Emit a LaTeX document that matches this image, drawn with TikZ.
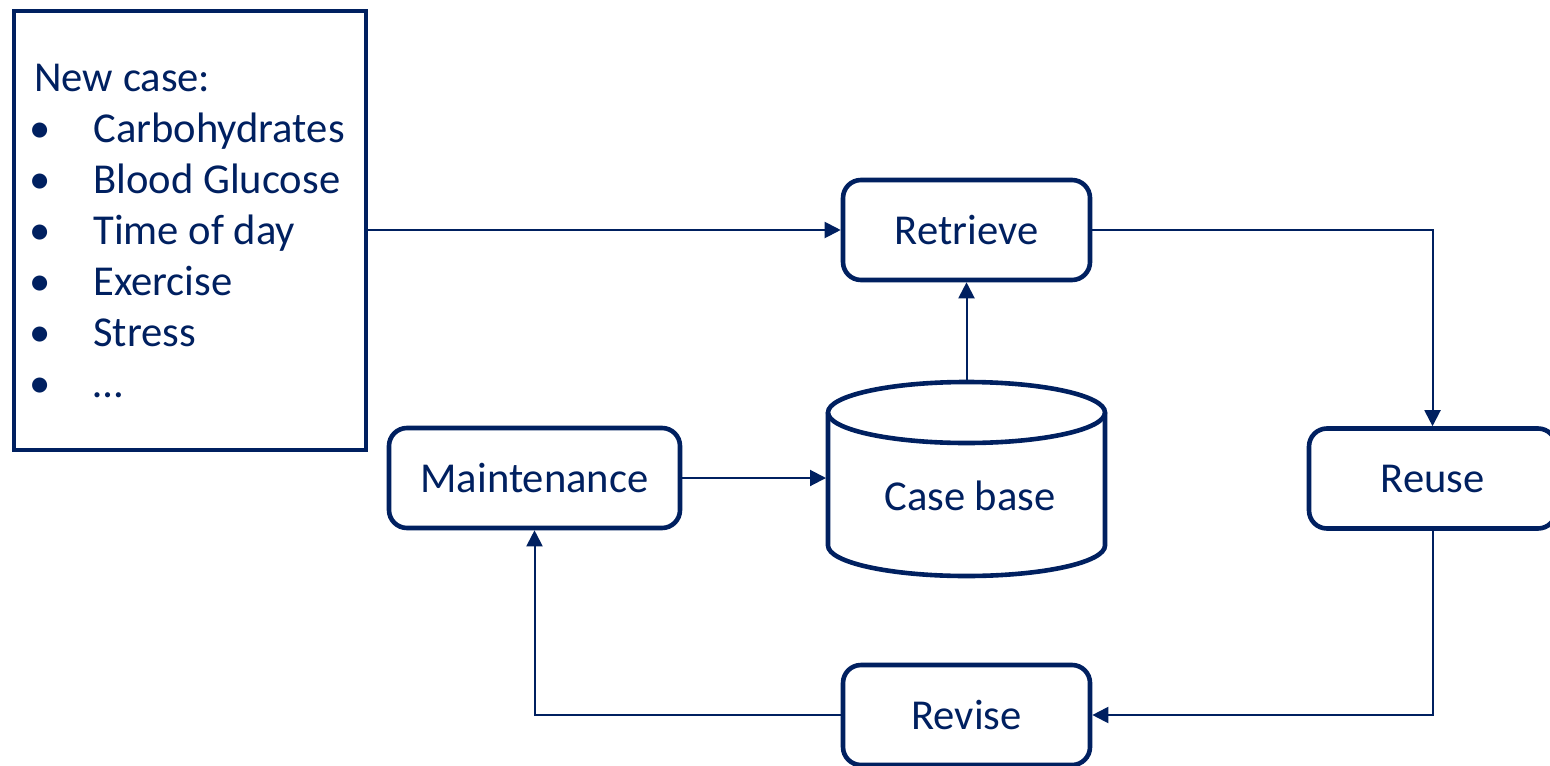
\documentclass[tikz,border=0pt]{standalone}
\usepackage{fontspec}
\setmainfont{Carlito}
\usetikzlibrary{arrows.meta}
\definecolor{navy}{HTML}{002060}
\tikzset{
  proc/.style={draw=navy, line width=2.3pt, rounded corners=9pt, minimum width=123.5pt, minimum height=50pt, inner sep=0pt, text=navy, font=\fontsize{21.3pt}{25pt}\selectfont},
  conn/.style={draw=navy, line width=1pt, -{Triangle[length=8pt,width=8pt]}},
  txt/.style={text=navy, inner sep=0pt, font=\fontsize{21.3pt}{25pt}\selectfont},
}
\begin{document}
\begin{tikzpicture}[x=0.5pt,y=-0.5pt]
\useasboundingbox (0,0) rectangle (1550,765);
\clip (0,0) rectangle (1550,765);
\fill[white] (0,0) rectangle (1550,765);
% new case box
\node[draw=navy, line width=2.2pt, minimum width=176pt, minimum height=219.5pt, inner sep=0pt] (nc) at (190,230.5) {};
\node[txt, anchor=base west] (t0) at (34,91) {New case:};
\foreach \i/\t in {1/Carbohydrates,2/Blood Glucose,3/Time of day,4/Exercise,5/Stress,6/\dots}{
  \node[txt, anchor=base] (b\i) at (40,91+51*\i) {•};
  \node[txt, anchor=base west] (t\i) at (93,91+51*\i) {\t};
}
% process boxes
\node[proc] (ret) at (966.5,230) {Retrieve};
\node[proc] (reu) at (1432.5,478.5) {Reuse};
\node[proc] (rev) at (966.5,715) {Revise};
\node[proc, minimum width=145.5pt] (mai) at (534.5,478) {Maintenance};
% case base cylinder
\node[minimum width=140.5pt, minimum height=99pt, inner sep=0pt, outer sep=0pt] (cb) at (966.5,479) {};
\draw[navy, line width=2.3pt] (828,412.5) -- (828,545.5)
  arc[start angle=180, end angle=360, x radius=69.25pt, y radius=15.25pt] -- (1105,412.5);
\draw[navy, line width=2.3pt] (966.5,412.5) ellipse[x radius=69.25pt, y radius=15.25pt];
\node[txt] (cbt) at (970,496) {Case base};
% connectors
\draw[conn] (nc.east |- ret.west) -- (ret.west);
\draw[conn] (ret.east) -| (reu.north);
\draw[conn] (reu.south) |- (rev.east);
\draw[conn] (rev.west) -| (mai.south);
\draw[conn] (mai.east) -- (mai.east -| cb.west);
\draw[conn] (cb.north) -- (ret.south);
\end{tikzpicture}
\end{document}
